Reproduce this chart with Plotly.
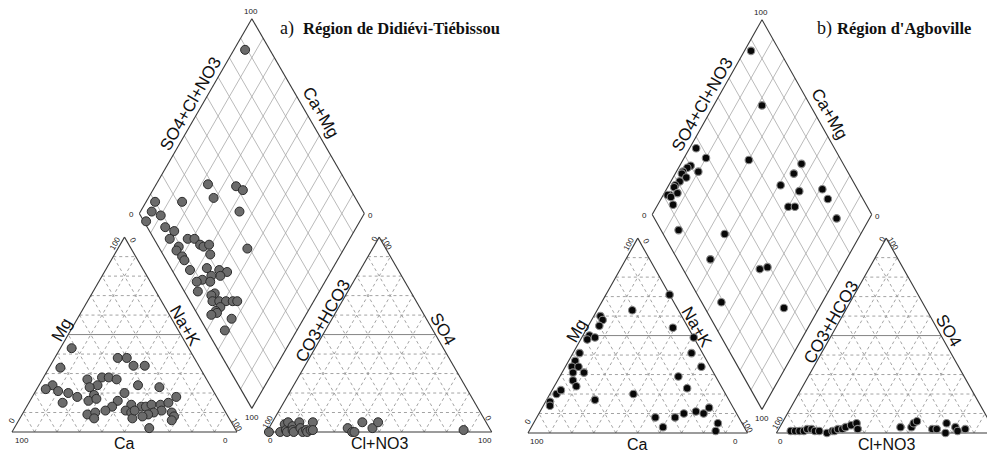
import numpy as np
import plotly.graph_objects as go

# ---------------- DATA (percent) ----------------
# Panel a) Région de Didiévi-Tiébissou
cat_a_ca  = [52, 62, 34, 30, 29, 24, 53, 46, 43, 40, 50, 54, 70, 74, 69, 65, 62, 70, 54, 58, 54, 40, 32, 23, 45,
             49, 53, 62, 58, 60, 40, 44, 42, 43, 36, 34, 31, 27, 23, 18, 28, 32, 35, 38, 24, 24, 26, 38, 40]
cat_a_mg  = [43, 33, 38, 38, 34, 34, 27, 28, 28, 27, 24, 23, 24, 22, 21, 20, 18, 15, 19, 16, 17, 20, 24, 23, 16,
             13, 11, 9, 10, 7, 14, 11, 10, 7, 13, 13, 14, 14, 15, 18, 11, 10, 9, 8, 10, 8, 6, 2, 11]
cat_a_nak = [5, 5, 28, 32, 37, 42, 20, 26, 29, 33, 26, 23, 6, 4, 10, 15, 20, 15, 27, 26, 29, 40, 44, 54, 39,
             38, 36, 29, 32, 33, 46, 45, 48, 50, 51, 53, 55, 59, 62, 64, 61, 58, 56, 54, 66, 68, 68, 60, 49]

an_a_hco3 = [99, 94, 90, 91, 88, 87, 91, 88, 88, 83, 84, 84, 82, 82, 80, 77, 79, 63, 62, 61, 55, 52, 48, 12]
an_a_so4  = [0, 0, 4, 1, 5, 3, 0, 1, 0, 5, 2, 0, 1, 0, 1, 5, 1, 2, 0, 0, 5, 2, 5, 1]
an_a_cl   = [1, 6, 6, 8, 7, 10, 9, 11, 12, 12, 14, 16, 17, 18, 19, 18, 20, 35, 38, 39, 40, 46, 47, 87]

dia_a_camg = [95, 77, 64, 60, 71, 84, 56, 96, 95, 90, 95, 85, 80, 80, 72, 69, 74, 74, 70, 65, 63, 61, 58, 68,
              63, 56, 50, 46, 48, 52, 55, 57, 51, 54, 46, 47, 45, 42, 39, 36, 34, 40, 41, 40, 42, 32, 32, 43]
dia_a_scl  = [89, 38, 50, 52, 37, 22, 45, 10, 6, 9, 1, 8, 11, 7, 15, 18, 9, 7, 8, 19, 20, 23, 21, 8,
              8, 16, 21, 24, 20, 16, 11, 8, 14, 6, 13, 11, 10, 13, 16, 19, 21, 12, 9, 9, 6, 14, 8, 39]

# Panel b) Région d'Agboville
cat_b_ca  = [0, 21, 7, 37, 37, 40, 47, 49, 45, 0, 56, 60, 63, 60, 64, 59, 66, 66, 5, 4, 17, 16, 77, 74, 42,
             61, 82, 83, 38, 37, 29, 24, 18, 15, 11, 11, 14]
cat_b_mg  = [71, 63, 54, 60, 58, 55, 50, 48, 49, 49, 41, 37, 34, 34, 31, 31, 27, 24, 41, 34, 29, 23, 20, 22, 20,
             17, 16, 14, 8, 3, 8, 10, 11, 10, 13, 5, 1]
cat_b_nak = [29, 16, 39, 3, 5, 5, 3, 3, 6, 51, 3, 3, 3, 6, 5, 10, 7, 10, 54, 62, 54, 61, 3, 4, 38,
             22, 2, 3, 54, 60, 63, 66, 71, 75, 76, 84, 85]

an_b_hco3 = [93, 91, 89, 87, 85, 83, 82, 80, 77, 74, 73, 71, 69, 67, 64, 61, 62, 42, 37, 35, 33, 28, 26, 20, 23, 17, 17, 13]
an_b_so4  = [1, 1, 1, 1, 2, 2, 1, 1, 0, 1, 1, 2, 2, 3, 4, 5, 2, 3, 3, 5, 6, 2, 2, 5, 0, 3, 1, 2]
an_b_cl   = [6, 8, 10, 12, 13, 15, 17, 19, 23, 25, 26, 27, 29, 30, 32, 34, 36, 55, 60, 60, 61, 70, 72, 75, 77, 80, 82, 85]

dia_b_camg = [97, 78, 70, 97, 90, 90, 95, 96, 97, 97, 94, 96, 97, 97, 97, 94, 93, 98, 96, 45, 46, 49, 39, 29,
              24, 40, 37, 15, 84, 62, 62, 46, 37, 34, 16]
dia_b_scl  = [87, 78, 58, 37, 39, 32, 30, 28, 25, 24, 25, 21, 18, 17, 13, 17, 12, 12, 13, 81, 75, 66, 73, 84,
              84, 64, 67, 83, 8, 28, 15, 9, 35, 39, 36]

titles = [("a)", "Région de Didiévi-Tiébissou"), ("b)", "Région d'Agboville")]
ticks = [10, 20, 30, 40, 50, 60, 70, 80, 90]

# ---------------- GEOMETRY (unit = triangle side) ----------------
S = np.sqrt(3) / 2
G = 0.132      # gap between the two triangles
H0 = 0.105     # height of diamond bottom vertex

def cat_xy(ca, mg, nak):
    ca, mg, nak = map(np.asarray, (ca, mg, nak))
    t = ca + mg + nak
    m, n = mg / t, nak / t
    return n + 0.5 * m, S * m

def an_xy(hco3, so4, cl):
    hco3, so4, cl = map(np.asarray, (hco3, so4, cl))
    t = hco3 + so4 + cl
    s, c = so4 / t, cl / t
    return 1 + G + c + 0.5 * s, S * s

def dia_xy(camg, scl):
    c = np.asarray(camg) / 100.0
    a = np.asarray(scl) / 100.0
    return 1 + G / 2 + 0.5 * (a - c), H0 + S * (a + c)

def seg_trace(segs, color, width, dash, xa, ya):
    xs, ys = [], []
    for (x0, y0), (x1, y1) in segs:
        xs += [x0, x1, None]
        ys += [y0, y1, None]
    return go.Scatter(x=xs, y=ys, mode="lines", line=dict(color=color, width=width, dash=dash),
                      hoverinfo="skip", showlegend=False, xaxis=xa, yaxis=ya)

def tri_grid(x0):
    minor, major = [], []
    for k in ticks:
        f = k / 100
        horiz = ((x0 + 0.5 * f, S * f), (x0 + 1 - 0.5 * f, S * f))
        right = ((x0 + f, 0), (x0 + f + 0.5 * (1 - f), S * (1 - f)))
        left = ((x0 + 1 - f, 0), (x0 + 0.5 * (1 - f), S * (1 - f)))
        (major if k == 50 else minor).append(horiz)
        minor.append(right)
        minor.append(left)
    return minor, major

def dia_grid():
    bx, by = 1 + G / 2, H0
    segs = []
    for k in ticks:
        f = k / 100
        p0 = (bx + 0.5 * f, by + S * f)
        segs.append((p0, (p0[0] - 0.5, p0[1] + S)))
        q0 = (bx - 0.5 * f, by + S * f)
        segs.append((q0, (q0[0] + 0.5, q0[1] + S)))
    return segs

def outlines():
    bx, by = 1 + G / 2, H0
    tri1 = [(0, 0), (1, 0), (0.5, S), (0, 0)]
    tri2 = [(1 + G, 0), (2 + G, 0), (1.5 + G, S), (1 + G, 0)]
    dia = [(bx, by), (bx + 0.5, by + S), (bx, by + 2 * S), (bx - 0.5, by + S), (bx, by)]
    segs = []
    for poly in (tri1, tri2, dia):
        segs += list(zip(poly[:-1], poly[1:]))
    return segs

fig = go.Figure()
panels = [
    dict(xa="x", ya="y", cat=(cat_a_ca, cat_a_mg, cat_a_nak), an=(an_a_hco3, an_a_so4, an_a_cl),
         dia=(dia_a_camg, dia_a_scl),
         marker=dict(size=9, color="#6b6b6b", line=dict(color="#2b2b2b", width=1))),
    dict(xa="x2", ya="y2", cat=(cat_b_ca, cat_b_mg, cat_b_nak), an=(an_b_hco3, an_b_so4, an_b_cl),
         dia=(dia_b_camg, dia_b_scl),
         marker=dict(size=7.5, color="#080808", line=dict(color="#8a8a8a", width=1.1))),
]

for p in panels:
    xa, ya = p["xa"], p["ya"]
    mi1, ma1 = tri_grid(0)
    mi2, ma2 = tri_grid(1 + G)
    fig.add_trace(seg_trace(mi1 + mi2, "#999999", 0.9, "dot", xa, ya))
    fig.add_trace(seg_trace(dia_grid(), "#a8a8a8", 0.8, "solid", xa, ya))
    fig.add_trace(seg_trace(ma1 + ma2, "#858585", 1.0, "solid", xa, ya))
    fig.add_trace(seg_trace(outlines(), "#383838", 1.1, "solid", xa, ya))
    for xy in (cat_xy(*p["cat"]), an_xy(*p["an"]), dia_xy(*p["dia"])):
        fig.add_trace(go.Scatter(x=xy[0], y=xy[1], mode="markers", marker=p["marker"],
                                 showlegend=False, hoverinfo="skip", xaxis=xa, yaxis=ya))

# ---------------- LABELS ----------------
A0 = 1 + G
axis_labels = [
    ("Ca", 0.5, -0.052, 0, 16), ("Mg", 0.223, 0.455, -60, 17), ("Na+K", 0.77, 0.47, 60, 17),
    ("CO3+HCO3", 1.38, 0.492, -60, 17), ("SO4", 1.916, 0.457, 60, 17), ("Cl+NO3", A0 + 0.5, -0.052, 0, 16),
    ("SO4+Cl+NO3", 0.795, 1.46, -60, 17), ("Ca+Mg", 1.372, 1.42, 60, 17),
]
tick_labels = [
    ("100", 0.043, -0.039, 0), ("0", 0.947, -0.039, 0), ("0", -0.001, 0.053, -60),
    ("100", 0.458, 0.839, -60), ("0", 0.539, 0.853, 60), ("100", 1.001, 0.031, 60),
    ("0", A0 + 0.018, -0.036, 0), ("100", A0 + 0.007, 0.046, -60), ("0", A0 + 0.481, 0.861, -60),
    ("100", A0 + 0.533, 0.839, 60), ("0", A0 + 0.985, 0.061, 60), ("100", A0 + 0.970, -0.036, 0),
    ("100", 1.061, 1.868, 0), ("0", 0.532, 0.968, 0), ("0", 1.594, 0.964, 0), ("100", 1.065, 0.065, 0),
]
annotations = []
for p in panels:
    for t, x, y, ang, sz in axis_labels:
        annotations.append(dict(text=t, x=x, y=y, xref=p["xa"], yref=p["ya"], textangle=ang, showarrow=False,
                                xanchor="center", yanchor="middle",
                                font=dict(family="Liberation Sans, Arial", size=sz, color="#111")))
    for t, x, y, ang in tick_labels:
        annotations.append(dict(text=t, x=x, y=y, xref=p["xa"], yref=p["ya"], textangle=ang, showarrow=False,
                                xanchor="center", yanchor="middle",
                                font=dict(family="Liberation Sans, Arial", size=8, color="#222")))

W, H = 987, 455
title_pos = [(278, 301), (815, 835)]
for (lab, name), (xl, xn) in zip(titles, title_pos):
    annotations.append(dict(text=lab, x=xl / W, y=1 - 28 / H, xref="paper", yref="paper", showarrow=False,
                            xanchor="left", yanchor="middle",
                            font=dict(family="Liberation Serif, Times New Roman", size=18, color="#111")))
    annotations.append(dict(text="<b>" + name + "</b>", x=xn / W, y=1 - 28 / H, xref="paper", yref="paper",
                            showarrow=False, xanchor="left", yanchor="middle",
                            font=dict(family="Liberation Serif, Times New Roman", size=16.5, color="#111")))

split = 507
ax_common = dict(visible=False, showgrid=False, zeroline=False, fixedrange=True)
fig.update_layout(
    width=W, height=H, margin=dict(l=0, r=0, t=0, b=0, pad=0),
    paper_bgcolor="white", plot_bgcolor="white", showlegend=False,
    xaxis=dict(domain=[0, split / W], range=[(0 - 12) / 225, (split - 12) / 225], **ax_common),
    yaxis=dict(domain=[0, 1], range=[(432 - H) / 225, 432 / 225], **ax_common),
    xaxis2=dict(domain=[split / W, 1], range=[(split - 528) / 219.5, (W - 528) / 219.5], anchor="y2", **ax_common),
    yaxis2=dict(domain=[0, 1], range=[(433 - H) / 225, 433 / 225], anchor="x2", **ax_common),
    annotations=annotations,
)

fig.write_html("out.html", config={"displayModeBar": False},
               post_script="document.body.style.margin='0';document.body.style.padding='0';")
